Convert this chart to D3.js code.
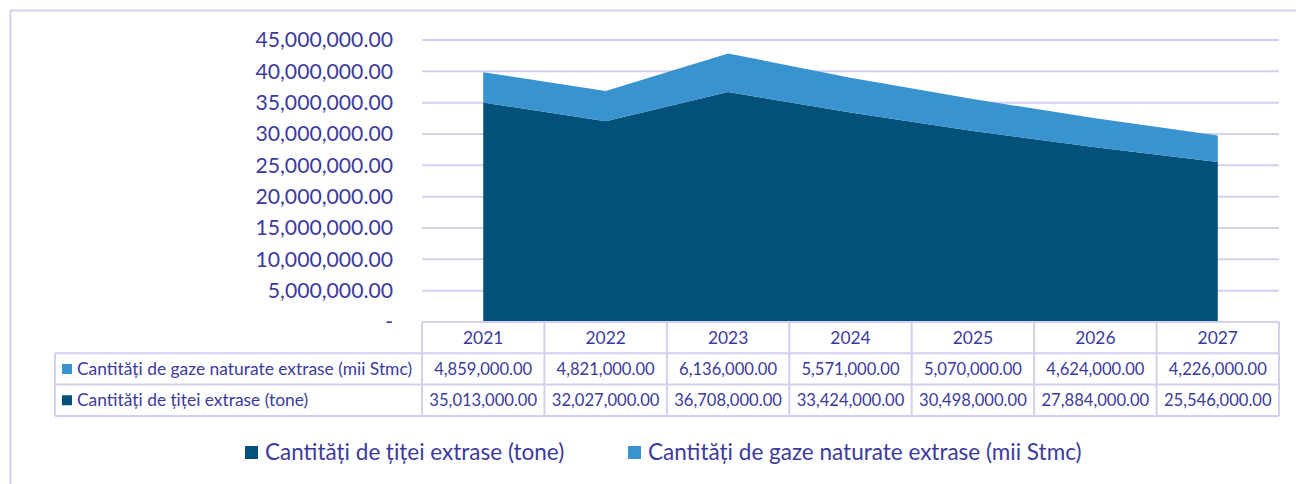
<!DOCTYPE html>
<html>
<head>
<meta charset="utf-8">
<script src="https://cdn.jsdelivr.net/npm/d3@7"></script>
<style>
  html, body { margin: 0; padding: 0; background: #fff; }
  svg text { font-family: Lato, "Open Sans", sans-serif; fill: #3c3a9c; }
</style>
</head>
<body>
<svg id="chart" width="1296" height="484"></svg>
<script>
// Production forecast data
const years = ["2021", "2022", "2023", "2024", "2025", "2026", "2027"];
const titei = [35013000, 32027000, 36708000, 33424000, 30498000, 27884000, 25546000];
const gaze = [4859000, 4821000, 6136000, 5571000, 5070000, 4624000, 4226000];
const seriesNames = ["Cantități de țiței extrase (tone)", "Cantități de gaze naturate extrase (mii Stmc)"];
const yTicks = [0, 5000000, 10000000, 15000000, 20000000, 25000000, 30000000, 35000000, 40000000, 45000000];

const colors = ["#03507a", "#3893cf"];
const gridColor = "#d3d0ee";

const svg = d3.select("#chart");
const W = 1296;

// Outer frame
svg.append("path")
  .attr("d", `M${W},10.5 H10.5 V484`)
  .attr("fill", "none").attr("stroke", gridColor).attr("stroke-width", 2);

const plotL = 422, plotR = 1279, plotT = 40, plotB = 322;

const x = d3.scaleBand().domain(years).range([plotL, plotR]);
const y = d3.scaleLinear().domain([0, 45000000]).range([plotB, plotT]);

// Gridlines
svg.append("g").selectAll("line").data(yTicks.filter(d => d > 0)).join("line")
  .attr("x1", plotL).attr("x2", plotR)
  .attr("y1", d => y(d)).attr("y2", d => y(d))
  .attr("stroke", gridColor).attr("stroke-width", 2);

// Stacked areas
const rows = years.map((yr, i) => ({ year: yr, titei: titei[i], gaze: gaze[i] }));
const stack = d3.stack().keys(["titei", "gaze"]);
const layers = stack(rows);
const area = d3.area()
  .x(d => x(d.data.year) + x.bandwidth() / 2)
  .y0(d => y(d[0]))
  .y1(d => y(d[1]));
svg.append("g").selectAll("path").data(layers).join("path")
  .attr("d", area)
  .attr("fill", (d, i) => colors[i]);

// Y axis labels
const fmt = d3.format(",.2f");
svg.append("g").selectAll("text").data(yTicks).join("text")
  .attr("x", 393)
  .attr("y", d => y(d))
  .attr("dy", "0.35em")
  .attr("text-anchor", "end")
  .attr("font-size", 21.2)
  .text(d => d === 0 ? "-" : fmt(d));

// Data table
const rowH = 31.3;
const tableTop = plotB;
const labelL = 55;
const tableFont = 17.4;
const numFont = 16.6;
const tbl = svg.append("g");
const lineAttrs = sel => sel.attr("stroke", gridColor).attr("stroke-width", 2);

// horizontal lines
[0, 1, 2, 3].forEach(r => {
  tbl.append("line").call(lineAttrs)
    .attr("x1", r === 0 ? plotL : labelL).attr("x2", plotR)
    .attr("y1", tableTop + r * rowH).attr("y2", tableTop + r * rowH);
});
// vertical lines
tbl.append("line").call(lineAttrs)
  .attr("x1", labelL).attr("x2", labelL)
  .attr("y1", tableTop + rowH).attr("y2", tableTop + 3 * rowH);
years.forEach((yr, i) => {
  tbl.append("line").call(lineAttrs)
    .attr("x1", x(yr)).attr("x2", x(yr))
    .attr("y1", tableTop).attr("y2", tableTop + 3 * rowH);
});
tbl.append("line").call(lineAttrs)
  .attr("x1", plotR).attr("x2", plotR)
  .attr("y1", tableTop).attr("y2", tableTop + 3 * rowH);

// header years
tbl.selectAll("text.yr").data(years).join("text")
  .attr("class", "yr")
  .attr("x", d => x(d) + x.bandwidth() / 2)
  .attr("y", tableTop + rowH / 2)
  .attr("dy", "0.35em")
  .attr("text-anchor", "middle")
  .attr("font-size", tableFont)
  .text(d => d);

// body rows: gas first, then oil
const tableRows = [
  { name: seriesNames[1], values: gaze, color: colors[1] },
  { name: seriesNames[0], values: titei, color: colors[0] }
];
tableRows.forEach((r, ri) => {
  const cy = tableTop + (ri + 1) * rowH + rowH / 2;
  tbl.append("rect")
    .attr("x", 62).attr("y", cy - 5).attr("width", 10).attr("height", 10)
    .attr("fill", r.color);
  tbl.append("text")
    .attr("x", 77).attr("y", cy).attr("dy", "0.35em")
    .attr("font-size", tableFont)
    .text(r.name);
  tbl.selectAll(null).data(r.values).join("text")
    .attr("x", (d, i) => x(years[i]) + x.bandwidth() / 2)
    .attr("y", cy).attr("dy", "0.35em")
    .attr("text-anchor", "middle")
    .attr("font-size", numFont)
    .text(d => fmt(d));
});

// Legend
const legend = svg.append("g");
const legendItems = [
  { name: seriesNames[0], color: colors[0], x: 245 },
  { name: seriesNames[1], color: colors[1], x: 628 }
];
legendItems.forEach(it => {
  legend.append("rect")
    .attr("x", it.x).attr("y", 446).attr("width", 13).attr("height", 13)
    .attr("fill", it.color);
  legend.append("text")
    .attr("x", it.x + 20).attr("y", 452.5).attr("dy", "0.35em")
    .attr("font-size", 22.5)
    .text(it.name);
});
</script>
</body>
</html>
